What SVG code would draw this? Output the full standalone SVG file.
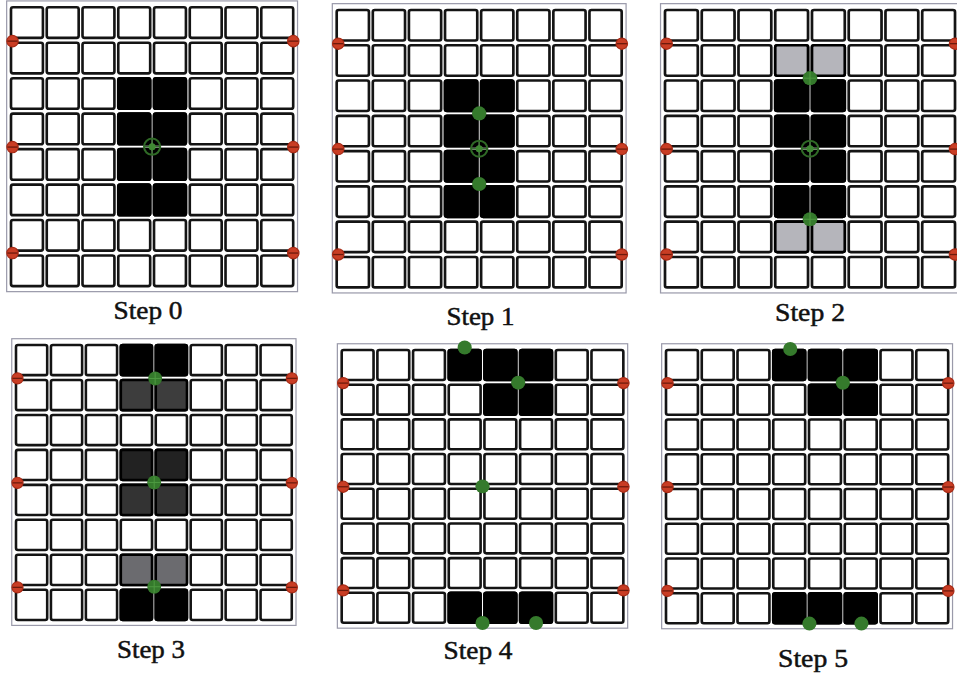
<svg xmlns="http://www.w3.org/2000/svg" xmlns:xlink="http://www.w3.org/1999/xlink" width="957" height="677" viewBox="0 0 957 677">
<style>
.c{fill:#fff;stroke:#141414;stroke-width:2.6}
.k{stroke:#000;stroke-width:2.6}
.fr{fill:none;stroke:#9a9aaa;stroke-width:1.2}
.rd{fill:#c93d24;stroke:#a82b16;stroke-width:1.2}
.rb{stroke:#6e1a0c;stroke-width:1.3}
.gr{fill:none;stroke:#2f6a26;stroke-width:2}
.gx{stroke:#2f6a26;stroke-width:1.3}
.gf{fill:#357a2c}
.gc{fill:#3f8a33}
.lbl{font-family:"Liberation Serif","Times New Roman",serif;font-size:25px;fill:#111;stroke:#111;stroke-width:0.5;text-anchor:middle}
</style>
<defs>
<g id="grid">
<rect class="fr" x="-4.3" y="-6.3" width="288" height="287"/>
<g id="row">
<rect class="c" x="0" y="0" width="31.6" height="30.2" rx="2"/>
<rect class="c" x="35.4" y="0" width="31.6" height="30.2" rx="2"/>
<rect class="c" x="70.8" y="0" width="31.6" height="30.2" rx="2"/>
<rect class="c" x="106.2" y="0" width="31.6" height="30.2" rx="2"/>
<rect class="c" x="141.6" y="0" width="31.6" height="30.2" rx="2"/>
<rect class="c" x="177" y="0" width="31.6" height="30.2" rx="2"/>
<rect class="c" x="212.4" y="0" width="31.6" height="30.2" rx="2"/>
<rect class="c" x="247.8" y="0" width="31.6" height="30.2" rx="2"/>
</g>
<use xlink:href="#row" href="#row" y="35"/>
<use xlink:href="#row" href="#row" y="70"/>
<use xlink:href="#row" href="#row" y="105"/>
<use xlink:href="#row" href="#row" y="140"/>
<use xlink:href="#row" href="#row" y="175"/>
<use xlink:href="#row" href="#row" y="210"/>
<use xlink:href="#row" href="#row" y="245"/>
</g>
<g id="rdot"><circle class="rd" r="5.6"/><line class="rb" x1="-5" y1="0" x2="5" y2="0"/></g>
<g id="reds">
<use href="#rdot" xlink:href="#rdot" x="1.5" y="33.4"/>
<use href="#rdot" xlink:href="#rdot" x="1.5" y="138"/>
<use href="#rdot" xlink:href="#rdot" x="1.5" y="242.6"/>
<use href="#rdot" xlink:href="#rdot" x="279.5" y="33.4"/>
<use href="#rdot" xlink:href="#rdot" x="279.5" y="138"/>
<use href="#rdot" xlink:href="#rdot" x="279.5" y="242.6"/>
</g>
<g id="gring"><circle class="gr" r="8"/><line class="gx" x1="-8" y1="0" x2="8" y2="0"/><line class="gx" x1="0" y1="-8" x2="0" y2="8"/><circle class="gc" r="3.5"/></g>
<g id="gdot"><circle class="gf" r="7"/></g>
<g id="gdotx"><circle class="gf" r="7"/><line stroke="#4f9a42" stroke-width="1" x1="-6" y1="0" x2="6" y2="0"/><line stroke="#4f9a42" stroke-width="1" x1="0" y1="-6" x2="0" y2="6"/></g>
</defs>

<g id="step0" transform="translate(11,7.3) scale(1.010,1.013)">
<use href="#grid" xlink:href="#grid"/>
<g fill="#000">
<rect class="k" x="106.2" y="70" width="31.6" height="30.2" rx="2"/><rect class="k" x="141.6" y="70" width="31.6" height="30.2" rx="2"/>
<rect class="k" x="106.2" y="105" width="31.6" height="30.2" rx="2"/><rect class="k" x="141.6" y="105" width="31.6" height="30.2" rx="2"/>
<rect class="k" x="106.2" y="140" width="31.6" height="30.2" rx="2"/><rect class="k" x="141.6" y="140" width="31.6" height="30.2" rx="2"/>
<rect class="k" x="106.2" y="175" width="31.6" height="30.2" rx="2"/><rect class="k" x="141.6" y="175" width="31.6" height="30.2" rx="2"/>
</g>
<use href="#reds" xlink:href="#reds"/>
<use href="#gring" xlink:href="#gring" x="139.7" y="137.6"/>
</g>

<g id="step1" transform="translate(336.7,10) scale(1.020,1.008)">
<use href="#grid" xlink:href="#grid"/>
<g fill="#000">
<rect class="k" x="106.2" y="70" width="31.6" height="30.2" rx="2"/><rect class="k" x="141.6" y="70" width="31.6" height="30.2" rx="2"/>
<rect class="k" x="106.2" y="105" width="31.6" height="30.2" rx="2"/><rect class="k" x="141.6" y="105" width="31.6" height="30.2" rx="2"/>
<rect class="k" x="106.2" y="140" width="31.6" height="30.2" rx="2"/><rect class="k" x="141.6" y="140" width="31.6" height="30.2" rx="2"/>
<rect class="k" x="106.2" y="175" width="31.6" height="30.2" rx="2"/><rect class="k" x="141.6" y="175" width="31.6" height="30.2" rx="2"/>
</g>
<use href="#reds" xlink:href="#reds"/>
<use href="#gdot" xlink:href="#gdot" x="139.7" y="102.6"/>
<use href="#gring" xlink:href="#gring" x="139.7" y="137.6"/>
<use href="#gdot" xlink:href="#gdot" x="139.7" y="172.6"/>
</g>

<g id="step2" transform="translate(665,10) scale(1.038,1.008)">
<use href="#grid" xlink:href="#grid"/>
<g fill="#b5b5bb">
<rect class="k" x="106.2" y="35" width="31.6" height="30.2" rx="2"/><rect class="k" x="141.6" y="35" width="31.6" height="30.2" rx="2"/>
<rect class="k" x="106.2" y="210" width="31.6" height="30.2" rx="2"/><rect class="k" x="141.6" y="210" width="31.6" height="30.2" rx="2"/>
</g>
<g fill="#000">
<rect class="k" x="106.2" y="70" width="31.6" height="30.2" rx="2"/><rect class="k" x="141.6" y="70" width="31.6" height="30.2" rx="2"/>
<rect class="k" x="106.2" y="105" width="31.6" height="30.2" rx="2"/><rect class="k" x="141.6" y="105" width="31.6" height="30.2" rx="2"/>
<rect class="k" x="106.2" y="140" width="31.6" height="30.2" rx="2"/><rect class="k" x="141.6" y="140" width="31.6" height="30.2" rx="2"/>
<rect class="k" x="106.2" y="175" width="31.6" height="30.2" rx="2"/><rect class="k" x="141.6" y="175" width="31.6" height="30.2" rx="2"/>
</g>
<use href="#reds" xlink:href="#reds"/>
<use href="#gdotx" xlink:href="#gdotx" x="139.7" y="67.6"/>
<use href="#gring" xlink:href="#gring" x="139.7" y="137.6"/>
<use href="#gdotx" xlink:href="#gdotx" x="139.7" y="207.6"/>
</g>

<g id="step3" transform="translate(16,345) scale(0.987,0.999)">
<use href="#grid" xlink:href="#grid"/>
<rect class="k" fill="#000" x="106.2" y="0" width="31.6" height="30.2" rx="2"/><rect class="k" fill="#000" x="141.6" y="0" width="31.6" height="30.2" rx="2"/>
<rect class="k" fill="#3d3d3d" x="106.2" y="35" width="31.6" height="30.2" rx="2"/><rect class="k" fill="#3d3d3d" x="141.6" y="35" width="31.6" height="30.2" rx="2"/>
<rect class="k" fill="#222" x="106.2" y="105" width="31.6" height="30.2" rx="2"/><rect class="k" fill="#222" x="141.6" y="105" width="31.6" height="30.2" rx="2"/>
<rect class="k" fill="#333" x="106.2" y="140" width="31.6" height="30.2" rx="2"/><rect class="k" fill="#333" x="141.6" y="140" width="31.6" height="30.2" rx="2"/>
<rect class="k" fill="#6b6b6f" x="106.2" y="210" width="31.6" height="30.2" rx="2"/><rect class="k" fill="#6b6b6f" x="141.6" y="210" width="31.6" height="30.2" rx="2"/>
<rect class="k" fill="#000" x="106.2" y="245" width="31.6" height="30.2" rx="2"/><rect class="k" fill="#000" x="141.6" y="245" width="31.6" height="30.2" rx="2"/>
<use href="#reds" xlink:href="#reds"/>
<use href="#gdotx" xlink:href="#gdotx" x="141" y="33.5"/>
<use href="#gdotx" xlink:href="#gdotx" x="140" y="137.6"/>
<use href="#gdotx" xlink:href="#gdotx" x="140" y="242"/>
</g>

<g id="step4" transform="translate(341.7,350) scale(1.008,0.991)">
<use href="#grid" xlink:href="#grid"/>
<g fill="#000">
<rect class="k" x="106.2" y="0" width="31.6" height="30.2" rx="2"/><rect class="k" x="141.6" y="0" width="31.6" height="30.2" rx="2"/><rect class="k" x="177" y="0" width="31.6" height="30.2" rx="2"/>
<rect class="k" x="141.6" y="35" width="31.6" height="30.2" rx="2"/><rect class="k" x="177" y="35" width="31.6" height="30.2" rx="2"/>
<rect class="k" x="106.2" y="245" width="31.6" height="30.2" rx="2"/><rect class="k" x="141.6" y="245" width="31.6" height="30.2" rx="2"/><rect class="k" x="177" y="245" width="31.6" height="30.2" rx="2"/>
</g>
<use href="#reds" xlink:href="#reds"/>
<use href="#gdot" xlink:href="#gdot" x="122" y="-2.5"/>
<use href="#gdot" xlink:href="#gdot" x="175.1" y="33"/>
<use href="#gdot" xlink:href="#gdot" x="139.7" y="137.6"/>
<use href="#gdot" xlink:href="#gdot" x="139.7" y="275.5"/>
<use href="#gdot" xlink:href="#gdot" x="192.8" y="275.5"/>
</g>

<g id="step5" transform="translate(666,350) scale(1.010,0.993)">
<use href="#grid" xlink:href="#grid"/>
<g fill="#000">
<rect class="k" x="106.2" y="0" width="31.6" height="30.2" rx="2"/><rect class="k" x="141.6" y="0" width="31.6" height="30.2" rx="2"/><rect class="k" x="177" y="0" width="31.6" height="30.2" rx="2"/>
<rect class="k" x="141.6" y="35" width="31.6" height="30.2" rx="2"/><rect class="k" x="177" y="35" width="31.6" height="30.2" rx="2"/>
<rect class="k" x="106.2" y="245" width="31.6" height="30.2" rx="2"/><rect class="k" x="141.6" y="245" width="31.6" height="30.2" rx="2"/><rect class="k" x="177" y="245" width="31.6" height="30.2" rx="2"/>
</g>
<use href="#reds" xlink:href="#reds"/>
<use href="#gdot" xlink:href="#gdot" x="123" y="-1"/>
<use href="#gdot" xlink:href="#gdot" x="175.1" y="33"/>
<use href="#gdot" xlink:href="#gdot" x="142" y="275.5"/>
<use href="#gdot" xlink:href="#gdot" x="193.5" y="275.5"/>
</g>

<g id="labels">
<text class="lbl" x="148" y="319" textLength="69" lengthAdjust="spacingAndGlyphs">Step 0</text>
<text class="lbl" x="480.5" y="325" textLength="68" lengthAdjust="spacingAndGlyphs">Step 1</text>
<text class="lbl" x="810" y="321" textLength="70" lengthAdjust="spacingAndGlyphs">Step 2</text>
<text class="lbl" x="151" y="658" textLength="68" lengthAdjust="spacingAndGlyphs">Step 3</text>
<text class="lbl" x="478" y="659" textLength="69" lengthAdjust="spacingAndGlyphs">Step 4</text>
<text class="lbl" x="813" y="667" textLength="70" lengthAdjust="spacingAndGlyphs">Step 5</text>
</g>
</svg>
